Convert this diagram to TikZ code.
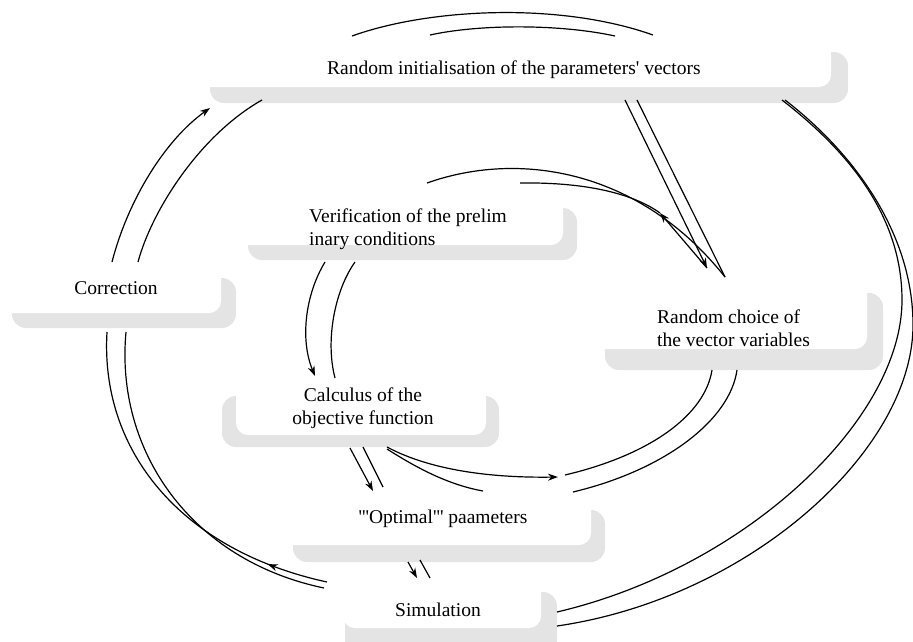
\documentclass[tikz,border=0pt]{standalone}
\usepackage{fontspec}
\setmainfont{Liberation Serif}[Ligatures=TeXOff]
\usetikzlibrary{arrows.meta,decorations.markings}
\definecolor{boxgray}{RGB}{228,228,228}
\tikzset{
  shadowbox/.style={fill=boxgray, rounded corners=14pt},
  whitebox/.style={fill=white, rounded corners=12pt},
  lbl/.style={inner sep=0pt, font=\fontsize{19.5}{23}\selectfont},
  conn/.style={line width=1.2pt},
  arr/.style={conn, -{Stealth[length=10pt,width=7pt]}},
  midarr/.style={conn, postaction={decorate}, decoration={markings, mark=at position #1 with {\arrow{Stealth[length=10pt,width=7pt]}}}}
}
\begin{document}
\begin{tikzpicture}[x=1pt,y=-1pt]
\useasboundingbox (0,0) rectangle (913,641);
% boxes
\fill[shadowbox] (210,52) rectangle (848,103);
\fill[whitebox] (193,36) rectangle (831,87);
\fill[shadowbox] (12,278) rectangle (236,328);
\fill[whitebox] (-6,262) rectangle (221,313);
\fill[shadowbox] (248,208) rectangle (577,260);
\fill[whitebox] (232,192) rectangle (563,245);
\fill[shadowbox] (605,293) rectangle (883,370);
\fill[whitebox] (588,272) rectangle (867,349);
\fill[shadowbox] (222,396) rectangle (499,447);
\fill[whitebox] (236,366) rectangle (486,435);
\fill[shadowbox] (293,510) rectangle (605,562);
\fill[whitebox] (278,494) rectangle (591,545);
\fill[shadowbox] (345,592) rectangle (557,655);
\fill[whitebox] (343,578) rectangle (541,628);
% labels
\node[lbl, anchor=west] (init) at (327,70) {Random initialisation of the parameters' vectors};
\node[lbl] (corr) at (116,288) {Correction};
\node[lbl, anchor=west, align=left] (verif) at (309,229) {Verification of the prelim\\inary conditions};
\node[lbl, anchor=west, align=left] (choice) at (657,328) {Random choice of\\the vector variables};
\node[lbl, align=center] (calc) at (363,408) {Calculus of the\\objective function};
\node[lbl] (opt) at (443,519) {'''Optimal''' paameters};
\node[lbl] (sim) at (438,610) {Simulation};
% connector end points
\coordinate (t1a) at (352,36); \coordinate (t1b) at (653,35);
\coordinate (t2a) at (430,35); \coordinate (t2b) at (615,36);
\coordinate (c1a) at (112,262); \coordinate (c1b) at (210,108);
\coordinate (c2a) at (138,262); \coordinate (c2b) at (262,100);
\coordinate (l1a) at (327,582); \coordinate (l1b) at (107,332);
\coordinate (l2a) at (324,588); \coordinate (l2b) at (126,332);
\coordinate (v1a) at (325,262); \coordinate (v1b) at (315,376);
\coordinate (v2a) at (355,262); \coordinate (v2b) at (335,378);
\coordinate (g1a) at (350,448); \coordinate (g1b) at (373,491);
\coordinate (g2a) at (363,447); \coordinate (g2b) at (383,487);
\coordinate (h1a) at (387,447); \coordinate (h1b) at (558,477);
\coordinate (h2a) at (387,449); \coordinate (h2b) at (483,491);
\coordinate (h3a) at (565,475); \coordinate (h3b) at (712,370);
\coordinate (h4a) at (573,492); \coordinate (h4b) at (737,370);
\coordinate (d1a) at (625,100); \coordinate (d1b) at (707,268);
\coordinate (d2a) at (637,100); \coordinate (d2b) at (725,277);
\coordinate (e1a) at (427,183);
\coordinate (e2a) at (520,183); \coordinate (e2m) at (660,213);
\coordinate (i1a) at (408,562); \coordinate (i1b) at (417,578);
\coordinate (i2a) at (420,560); \coordinate (i2b) at (430,578);
\coordinate (r1a) at (782,100); \coordinate (r1m) at (902,300); \coordinate (r1b) at (557,612);
\coordinate (r2a) at (785,100); \coordinate (r2m) at (913,325); \coordinate (r2b) at (557,626);
% connectors
\draw[conn] (t1a) .. controls (430,8) and (560,2) .. (t1b);
\draw[conn] (t2a) .. controls (480,24) and (560,24) .. (t2b);
\draw[arr] (c1a) .. controls (128,200) and (165,140) .. (c1b);
\draw[conn] (c2a) .. controls (152,210) and (200,135) .. (c2b);
\draw[midarr=0.17] (l1a) .. controls (180,550) and (100,450) .. (l1b);
\draw[conn] (l2a) .. controls (190,560) and (115,450) .. (l2b);
\draw[arr] (v1a) .. controls (305,295) and (300,340) .. (v1b);
\draw[conn] (v2a) .. controls (335,290) and (325,340) .. (v2b);
\draw[arr] (g1a) -- (g1b);
\draw[conn] (g2a) -- (g2b);
\draw[arr] (h1a) .. controls (430,470) and (490,478) .. (h1b);
\draw[conn] (h2a) .. controls (420,470) and (450,485) .. (h2b);
\draw[conn] (h3a) .. controls (650,455) and (705,415) .. (h3b);
\draw[conn] (h4a) .. controls (665,470) and (730,420) .. (h4b);
\draw[arr] (d1a) -- (d1b);
\draw[conn] (d2a) -- (d2b);
\draw[conn] (e1a) .. controls (520,150) and (640,170) .. (d2b);
\draw[conn] (e2a) .. controls (590,182) and (635,195) .. (e2m);
\draw[arr] (d1b) -- (e2m);
\draw[arr] (i1a) -- (i1b);
\draw[conn] (i2a) -- (i2b);
\draw[conn] (r1a) .. controls (840,145) and (902,210) .. (r1m) .. controls (902,420) and (745,568) .. (r1b);
\draw[conn] (r2a) .. controls (850,150) and (913,230) .. (r2m) .. controls (913,450) and (750,598) .. (r2b);
\end{tikzpicture}
\end{document}
